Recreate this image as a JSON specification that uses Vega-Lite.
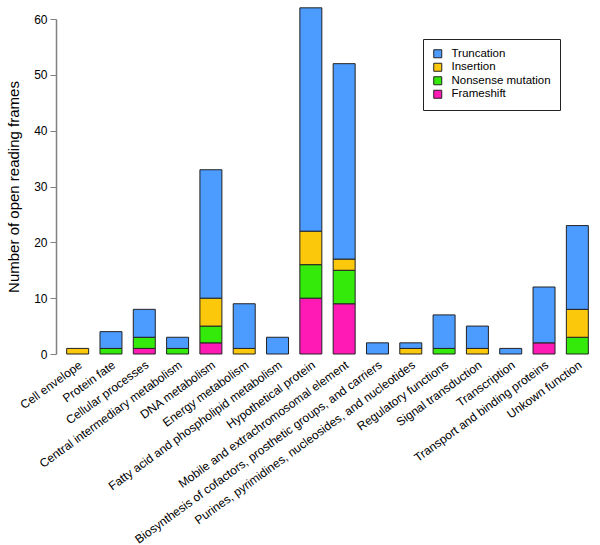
{
  "$schema": "https://vega.github.io/schema/vega-lite/v6.json",
  "width": 533,
  "height": 335,
  "autosize": {"type": "none"},
  "padding": {"left": 61, "top": 19, "right": 6, "bottom": 191},
  "background": "white",
  "config": {
    "view": {"stroke": null},
    "font": "Liberation Sans",
    "axis": {"grid": false}
  },
  "data": {
    "values": [
      {"cat": "Cell envelope", "type": "Insertion", "n": 1},
      {"cat": "Protein fate", "type": "Nonsense mutation", "n": 1},
      {"cat": "Protein fate", "type": "Truncation", "n": 3},
      {"cat": "Cellular processes", "type": "Frameshift", "n": 1},
      {"cat": "Cellular processes", "type": "Nonsense mutation", "n": 2},
      {"cat": "Cellular processes", "type": "Truncation", "n": 5},
      {"cat": "Central intermediary metabolism", "type": "Nonsense mutation", "n": 1},
      {"cat": "Central intermediary metabolism", "type": "Truncation", "n": 2},
      {"cat": "DNA metabolism", "type": "Frameshift", "n": 2},
      {"cat": "DNA metabolism", "type": "Nonsense mutation", "n": 3},
      {"cat": "DNA metabolism", "type": "Insertion", "n": 5},
      {"cat": "DNA metabolism", "type": "Truncation", "n": 23},
      {"cat": "Energy metabolism", "type": "Insertion", "n": 1},
      {"cat": "Energy metabolism", "type": "Truncation", "n": 8},
      {"cat": "Fatty acid and phospholipid metabolism", "type": "Truncation", "n": 3},
      {"cat": "Hypothetical protein", "type": "Frameshift", "n": 10},
      {"cat": "Hypothetical protein", "type": "Nonsense mutation", "n": 6},
      {"cat": "Hypothetical protein", "type": "Insertion", "n": 6},
      {"cat": "Hypothetical protein", "type": "Truncation", "n": 40},
      {"cat": "Mobile and extrachromosomal element", "type": "Frameshift", "n": 9},
      {"cat": "Mobile and extrachromosomal element", "type": "Nonsense mutation", "n": 6},
      {"cat": "Mobile and extrachromosomal element", "type": "Insertion", "n": 2},
      {"cat": "Mobile and extrachromosomal element", "type": "Truncation", "n": 35},
      {"cat": "Biosynthesis of cofactors, prosthetic groups, and carriers", "type": "Truncation", "n": 2},
      {"cat": "Purines, pyrimidines, nucleosides, and nucleotides", "type": "Insertion", "n": 1},
      {"cat": "Purines, pyrimidines, nucleosides, and nucleotides", "type": "Truncation", "n": 1},
      {"cat": "Regulatory functions", "type": "Nonsense mutation", "n": 1},
      {"cat": "Regulatory functions", "type": "Truncation", "n": 6},
      {"cat": "Signal transduction", "type": "Insertion", "n": 1},
      {"cat": "Signal transduction", "type": "Truncation", "n": 4},
      {"cat": "Transcription", "type": "Truncation", "n": 1},
      {"cat": "Transport and binding proteins", "type": "Frameshift", "n": 2},
      {"cat": "Transport and binding proteins", "type": "Truncation", "n": 10},
      {"cat": "Unkown function", "type": "Nonsense mutation", "n": 3},
      {"cat": "Unkown function", "type": "Insertion", "n": 5},
      {"cat": "Unkown function", "type": "Truncation", "n": 15}
    ]
  },
  "transform": [
    {"calculate": "indexof(['Frameshift','Nonsense mutation','Insertion','Truncation'], datum.type)", "as": "stackOrder"}
  ],
  "mark": {"type": "bar", "stroke": "#222222", "strokeWidth": 1, "clip": false},
  "encoding": {
    "x": {
      "field": "cat",
      "type": "nominal",
      "sort": null,
      "scale": {"paddingInner": 0.34, "paddingOuter": 0.17},
      "axis": {
        "title": null,
        "domain": false,
        "ticks": false,
        "labelAngle": -36,
        "labelAlign": "right",
        "labelBaseline": "top",
        "labelFontSize": 12,
        "labelColor": "#000000",
        "labelPadding": 5,
        "labelLimit": 400,
        "labelOverlap": false
      }
    },
    "y": {
      "field": "n",
      "type": "quantitative",
      "stack": "zero",
      "scale": {"domain": [0, 60], "nice": false},
      "axis": {
        "title": "Number of open reading frames",
        "titleFontSize": 15,
        "titleFontWeight": "normal",
        "titleColor": "#000000",
        "titlePadding": 12,
        "values": [0, 10, 20, 30, 40, 50, 60],
        "offset": 5,
        "domainColor": "#808080",
        "domainWidth": 1.5,
        "tickColor": "#808080",
        "tickSize": 6,
        "labelFontSize": 12,
        "labelColor": "#000000",
        "labelPadding": 3
      }
    },
    "color": {
      "field": "type",
      "type": "nominal",
      "scale": {
        "domain": ["Truncation", "Insertion", "Nonsense mutation", "Frameshift"],
        "range": ["#4C9BFF", "#FCC80C", "#34EA0B", "#FF1AB5"]
      },
      "legend": {
        "title": null,
        "orient": "none",
        "legendX": 362,
        "legendY": 20,
        "symbolType": "square",
        "symbolSize": 64,
        "symbolStrokeColor": "#222222",
        "symbolStrokeWidth": 1,
        "labelFontSize": 11.5,
        "labelColor": "#000000",
        "labelOffset": 8,
        "rowPadding": 0.5,
        "strokeColor": "#222222",
        "fillColor": "white",
        "padding": 9
      }
    },
    "order": {"field": "stackOrder", "type": "quantitative", "sort": "ascending"}
  }
}
